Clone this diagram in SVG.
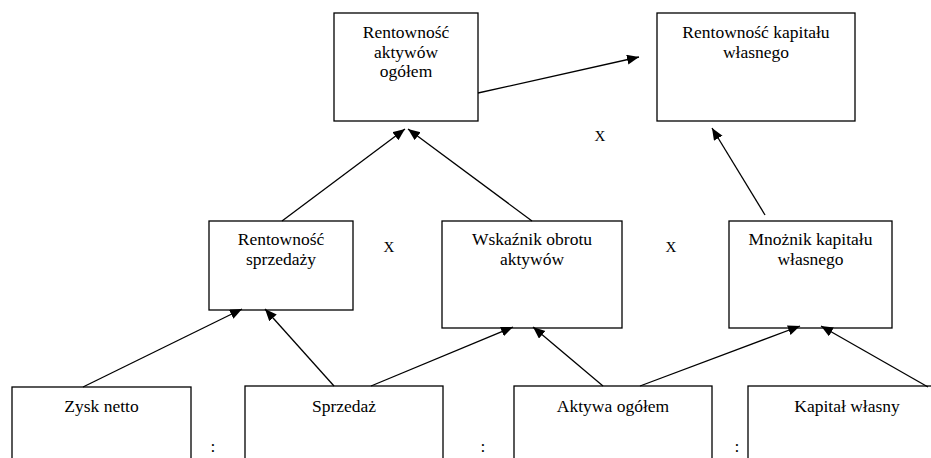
<svg xmlns="http://www.w3.org/2000/svg" width="931" height="458" viewBox="0 0 931 458">
<defs>
<marker id="ah" markerUnits="userSpaceOnUse" markerWidth="13" markerHeight="11" refX="12" refY="5" orient="auto">
<path d="M0,0 L12,5 L0,10 z" fill="#000"/>
</marker>
<style>
rect{fill:#fff;stroke:#000;stroke-width:1.3}
text{font-size:17.5px;fill:#000;text-anchor:middle}
.op{font-size:15px}
#connectors line{stroke:#000;stroke-width:1.3;marker-end:url(#ah)}
</style>
</defs>
<rect x="0" y="0" width="931" height="458" style="fill:#fff;stroke:none"/>
<g font-family="Liberation Serif, DejaVu Serif, serif">
<g id="roa"><rect x="334" y="13" width="144" height="108"/>
<text x="406" y="38">Rentowność</text><text x="406" y="57.5">aktywów</text><text x="406" y="77">ogółem</text></g>
<g id="roe"><rect x="657" y="13" width="198" height="108"/>
<text x="756" y="38">Rentowność kapitału</text><text x="756" y="57.5">własnego</text></g>
<g id="ros"><rect x="209" y="221" width="144" height="89"/>
<text x="281" y="245">Rentowność</text><text x="281" y="264.5">sprzedaży</text></g>
<g id="wo"><rect x="442" y="221" width="180" height="107"/>
<text x="532" y="245">Wskaźnik obrotu</text><text x="532" y="264.5">aktywów</text></g>
<g id="mk"><rect x="729" y="221" width="163" height="107"/>
<text x="810.5" y="245">Mnożnik kapitału</text><text x="810.5" y="264.5">własnego</text></g>
<g id="zn"><rect x="12" y="387" width="179" height="100"/><text x="101.5" y="412">Zysk netto</text></g>
<g id="sp"><rect x="245" y="386" width="198" height="100"/><text x="344" y="412">Sprzedaż</text></g>
<g id="ao"><rect x="514" y="386" width="198" height="100"/><text x="613" y="412">Aktywa ogółem</text></g>
<g id="kw"><rect x="748" y="386" width="198" height="100"/><text x="847" y="412">Kapitał własny</text></g>
<g id="operators">
<text class="op" x="600" y="141">X</text>
<text class="op" x="389" y="252">X</text>
<text class="op" x="671" y="252">X</text>
<text x="213" y="452">:</text>
<text x="483" y="452">:</text>
<text x="737" y="452">:</text>
</g>
</g>
<g id="connectors">
<line x1="83" y1="387" x2="242" y2="309"/>
<line x1="334" y1="386" x2="265" y2="309"/>
<line x1="371" y1="386" x2="513" y2="327"/>
<line x1="603" y1="386" x2="533" y2="327"/>
<line x1="640" y1="386" x2="800" y2="326"/>
<line x1="928" y1="387" x2="821" y2="326"/>
<line x1="282" y1="221" x2="405" y2="129"/>
<line x1="532" y1="221" x2="408" y2="129"/>
<line x1="765" y1="215" x2="712" y2="128"/>
<line x1="478" y1="93" x2="639" y2="57"/>
</g>
</svg>
